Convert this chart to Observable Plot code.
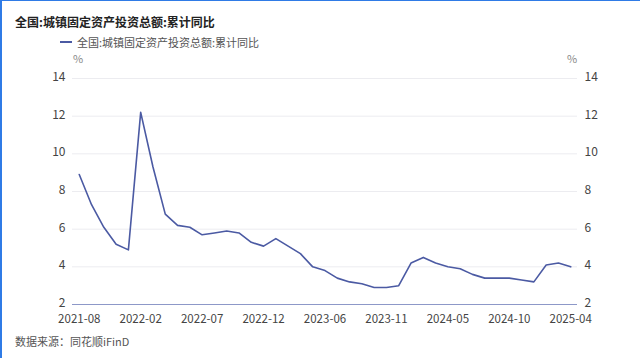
<!DOCTYPE html>
<html>
<head>
<meta charset="utf-8">
<script src="https://cdn.jsdelivr.net/npm/d3@7"></script>
<script src="https://cdn.jsdelivr.net/npm/@observablehq/plot@0.6"></script>
<style>
  html, body { margin: 0; padding: 0; background: #fff; }
  #wrap { position: relative; width: 640px; height: 358px; box-sizing: border-box;
    border-top: 1px solid #2f7be6; border-left: 2px solid #2f7be6; overflow: hidden;
    font-family: "Noto Sans CJK SC", "Noto Sans", sans-serif; }
  .abs { position: absolute; white-space: nowrap; }
  #title { left: 13px; top: 12px; font-size: 12px; font-weight: bold; color: #222; }
  #legend { left: 58px; top: 33px; font-size: 11px; color: #555; display: flex; align-items: center; }
  #legend .sw { width: 12px; height: 2px; background: #4b5aa3; margin-right: 5px; }
  .pct { top: 49px; font-size: 11px; color: #888; }
  #caption { left: 13px; top: 332px; font-size: 11px; color: #555; }
  #chart { position: absolute; left: -2px; top: 49px; }
</style>
</head>
<body>
<div id="wrap">
  <div id="title" class="abs">全国:城镇固定资产投资总额:累计同比</div>
  <div id="legend" class="abs"><span class="sw"></span>全国:城镇固定资产投资总额:累计同比</div>
  <div class="abs pct" style="left:71px">%</div>
  <div class="abs pct" style="left:565px">%</div>
  <div id="chart"></div>
  <div id="caption" class="abs">数据来源：同花顺iFinD</div>
</div>
<script>
const months = [
  "2021-08","2021-09","2021-10","2021-11","2021-12",
  "2022-02","2022-03","2022-04","2022-05","2022-06","2022-07","2022-08","2022-09","2022-10","2022-11","2022-12",
  "2023-02","2023-03","2023-04","2023-05","2023-06","2023-07","2023-08","2023-09","2023-10","2023-11","2023-12",
  "2024-02","2024-03","2024-04","2024-05","2024-06","2024-07","2024-08","2024-09","2024-10","2024-11","2024-12",
  "2025-02","2025-03","2025-04"
];
const values = [
  8.9, 7.3, 6.1, 5.2, 4.9,
  12.2, 9.3, 6.8, 6.2, 6.1, 5.7, 5.8, 5.9, 5.8, 5.3, 5.1,
  5.5, 5.1, 4.7, 4.0, 3.8, 3.4, 3.2, 3.1, 2.9, 2.9, 3.0,
  4.2, 4.5, 4.2, 4.0, 3.9, 3.6, 3.4, 3.4, 3.4, 3.3, 3.2,
  4.1, 4.2, 4.0
];
const xTicks = ["2021-08","2022-02","2022-07","2022-12","2023-06","2023-11","2024-05","2024-10","2025-04"];
const yTicks = [2, 4, 6, 8, 10, 12, 14];
const gridTicks = [4, 6, 8, 10, 12, 14];
const baseTick = [2];

const data = months.map((m, i) => ({month: m, value: values[i]}));

const chart = Plot.plot({
  width: 640,
  height: 276,
  marginLeft: 72,
  marginRight: 63,
  marginTop: 28,
  marginBottom: 22,
  style: {fontFamily: "'Noto Sans CJK SC', 'Noto Sans', sans-serif", fontSize: "12px", color: "#444", background: "transparent"},
  x: {type: "point", domain: months, padding: 0.55, round: false},
  y: {domain: [2, 14]},
  marks: [
    Plot.ruleY(gridTicks, {stroke: "#ececf0", strokeWidth: 1}),
    Plot.ruleY(baseTick, {stroke: "#8d98c8", strokeWidth: 1.2}),
    Plot.axisY({ticks: yTicks, anchor: "left", tickSize: 0, tickPadding: 7, dy: -1.5, label: null, fontSize: 12}),
    Plot.axisY({ticks: yTicks, anchor: "right", tickSize: 0, tickPadding: 7, dy: -1.5, label: null, fontSize: 12}),
    Plot.axisX({ticks: xTicks, tickSize: 0, tickPadding: 10, label: null, fontSize: 11.5}),
    Plot.line(data, {x: "month", y: "value", stroke: "#4b5aa3", strokeWidth: 1.6})
  ]
});
document.getElementById("chart").appendChild(chart);
</script>
</body>
</html>
